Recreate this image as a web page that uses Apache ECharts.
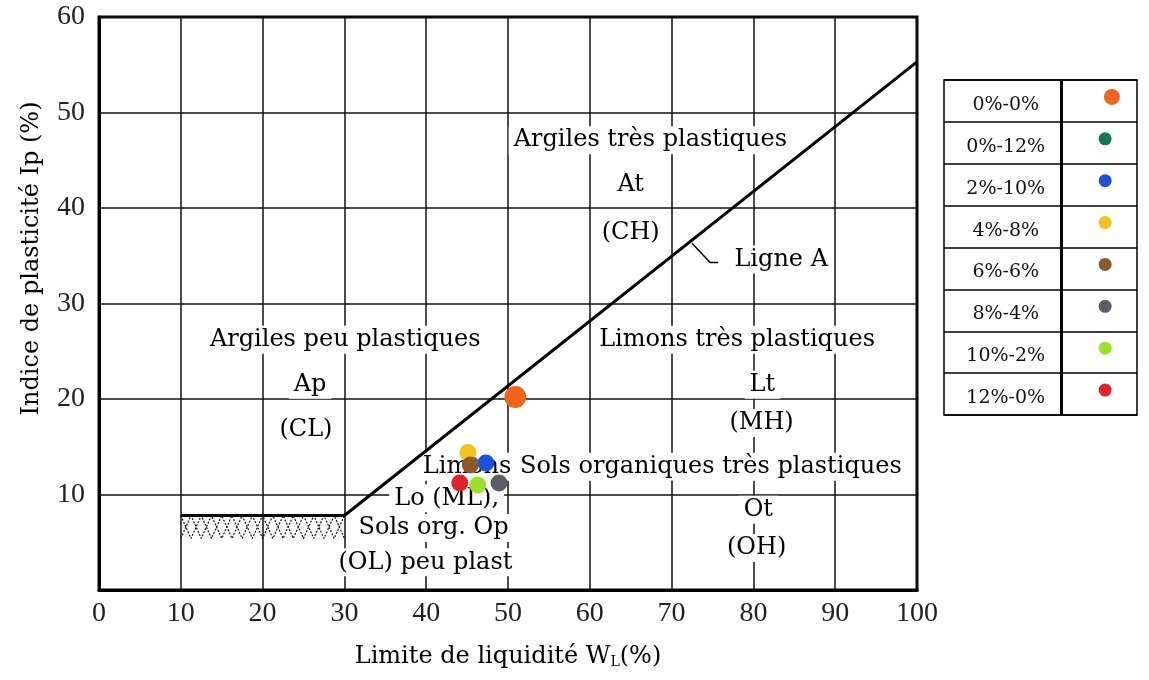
<!DOCTYPE html>
<html><head><meta charset="utf-8">
<script src="https://cdn.jsdelivr.net/npm/echarts@6/dist/echarts.min.js"></script>
<style>html,body{margin:0;padding:0;background:#fff}#c{width:1149px;height:680px}</style>
</head><body><div id="c"></div>
<script>
// ---- data ----
const legendLabels = ['0%-0%','0%-12%','2%-10%','4%-8%','6%-6%','8%-4%','10%-2%','12%-0%'];
const pointColors  = ['#f0651e','#137a4e','#1a52d8','#f5c21b','#8b5a2b','#5a5c66','#9be12a','#e0222a'];
const pointWL = [50.9, 45.4, 47.3, 45.1, 45.4, 48.9, 46.3, 44.1];
const pointIp = [20.2, 13.2, 13.3, 14.4, 13.1, 11.2, 11.0, 11.2];

const lineAWL = [10, 30, 100];
const lineAIp = [7.8, 7.8, 55.3];

const leaderWL = [72.5, 74.7, 75.7];
const leaderIp = [36.3, 34.3, 34.3];

const hatchWL  = [10,11.25,12.5,13.75,15,16.25,17.5,18.75,20,21.25,22.5,23.75,25,26.25,27.5,28.75,30];
const hatchIpA = [7.8,5.4,7.8,5.4,7.8,5.4,7.8,5.4,7.8,5.4,7.8,5.4,7.8,5.4,7.8,5.4,7.8];
const hatchIpB = [5.4,7.8,5.4,7.8,5.4,7.8,5.4,7.8,5.4,7.8,5.4,7.8,5.4,7.8,5.4,7.8,5.4];

const zoneLabels = ['Argiles très plastiques','At','(CH)','Ligne A',
  'Argiles peu plastiques','Ap','(CL)',
  'Limons très plastiques','Lt','(MH)',
  'Limons','Sols organiques très plastiques','Lo (ML),','Sols org. Op','(OL) peu plast',
  'Ot','(OH)'];
const zoneWL = [67.4, 65.0, 65.0, 83.4, 30.1, 25.8, 25.3, 78.0, 81.1, 81.0, 45.0, 74.8, 42.5, 40.9, 39.9, 80.6, 80.4];
const zoneIp = [47.1, 42.4, 37.4, 34.6, 26.2, 21.5, 16.8, 26.2, 21.5, 17.5, 12.9, 12.9, 9.6, 6.5, 2.9, 8.4, 4.4];

// ---- chart ----
const SERIF = '"DejaVu Serif", serif';
const TICK = '"Liberation Serif", serif';
const zip = (a,b) => a.map((v,i)=>[v,b[i]]);

const series = [];
// zone labels (white boxes break the grid lines)
series.push({
  type:'scatter', xAxisIndex:0, yAxisIndex:0, z:1, silent:true,
  symbolSize:0, itemStyle:{opacity:1},
  data: zoneLabels.map((t,i)=>({value:[zoneWL[i], zoneIp[i]], name:t})),
  label:{show:true, position:'inside', formatter:p=>p.name,
    fontFamily:SERIF, fontSize:24, color:'#000', backgroundColor:'#fff', padding:[2,5]}
});
// hatch
series.push({type:'line', xAxisIndex:0, yAxisIndex:0, z:2, symbol:'none', silent:true,
  data: zip(hatchWL, hatchIpA), lineStyle:{color:'#111', width:1.2, type:[2,1.5]}});
series.push({type:'line', xAxisIndex:0, yAxisIndex:0, z:2, symbol:'none', silent:true,
  data: zip(hatchWL, hatchIpB), lineStyle:{color:'#111', width:1.2, type:[2,1.5]}});
// A line
series.push({type:'line', xAxisIndex:0, yAxisIndex:0, z:3, symbol:'none', silent:true,
  data: zip(lineAWL, lineAIp), lineStyle:{color:'#000', width:3}});
series.push({type:'line', xAxisIndex:0, yAxisIndex:0, z:3, symbol:'none', silent:true,
  data: zip(leaderWL, leaderIp), lineStyle:{color:'#000', width:1.5}});
// points
legendLabels.forEach((name,i)=>{
  series.push({type:'scatter', name, xAxisIndex:0, yAxisIndex:0, z:4,
    symbolSize: i===0 ? 22 : 17,
    data:[[pointWL[i], pointIp[i]]],
    itemStyle:{color:pointColors[i], opacity:1}});
});
// legend table: text
series.push({type:'scatter', xAxisIndex:1, yAxisIndex:1, z:2, symbolSize:0, silent:true,
  itemStyle:{opacity:1},
  data: legendLabels.map(l=>[0.32, l]),
  label:{show:true, position:'inside', formatter:p=>p.value[1], offset:[0,4],
    fontFamily:SERIF, fontSize:19, color:'#111'}});
// legend table: dots
series.push({type:'scatter', xAxisIndex:1, yAxisIndex:1, z:3, silent:true,
  data: legendLabels.map((l,i)=>({value:[i===0?0.87:0.835, l], symbolSize: i===0?16:13,
    itemStyle:{color:pointColors[i], opacity:1}})),
  symbolOffset:[0,-4],
  markLine:{silent:true, symbol:'none', label:{show:false},
    lineStyle:{color:'#000', width:3, type:'solid'}, data:[{xAxis:0.615}]}
});

const option = {
  animation:false,
  backgroundColor:'#fff',
  grid:[
    {left:99, right:232, top:17, bottom:90, show:true, borderColor:'#000', borderWidth:3, backgroundColor:'transparent'},
    {left:944, top:80, width:193, height:335, show:true, borderColor:'#000', borderWidth:1.5}
  ],
  xAxis:[
    {type:'value', gridIndex:0, min:0, max:100, interval:10,
      name:'Limite de liquidité W{sub|L}(%)', nameLocation:'middle', nameGap:55,
      nameTextStyle:{fontFamily:SERIF, fontSize:24, color:'#000',
        rich:{sub:{fontFamily:SERIF, fontSize:14, color:'#000', verticalAlign:'bottom', padding:[10,0,0,0]}}},
      axisLine:{show:true, lineStyle:{color:'#000', width:3}}, axisTick:{show:false},
      axisLabel:{fontFamily:TICK, fontSize:28, color:'#222', margin:10},
      splitLine:{show:true, lineStyle:{color:'#111', width:1.5}}},
    {type:'value', gridIndex:1, min:0, max:1, show:false, splitLine:{show:false}}
  ],
  yAxis:[
    {type:'value', gridIndex:0, min:0, max:60, interval:10,
      name:'Indice de plasticité Ip (%)', nameLocation:'middle', nameGap:55,
      nameTextStyle:{fontFamily:SERIF, fontSize:24, color:'#000', padding:[0,0,0,90]},
      axisLine:{show:true, lineStyle:{color:'#000', width:3}}, axisTick:{show:false},
      axisLabel:{fontFamily:TICK, fontSize:28, color:'#222', margin:14, showMinLabel:false},
      splitLine:{show:true, lineStyle:{color:'#111', width:1.5}}},
    {type:'category', gridIndex:1, inverse:true, data:legendLabels, boundaryGap:true,
      axisLine:{show:false}, axisTick:{show:false}, axisLabel:{show:false},
      splitLine:{show:true, lineStyle:{color:'#000', width:1.5}}}
  ],
  series
};
const chart = echarts.init(document.getElementById('c'), null, {renderer:'canvas'});
chart.setOption(option);
</script>
</body></html>
